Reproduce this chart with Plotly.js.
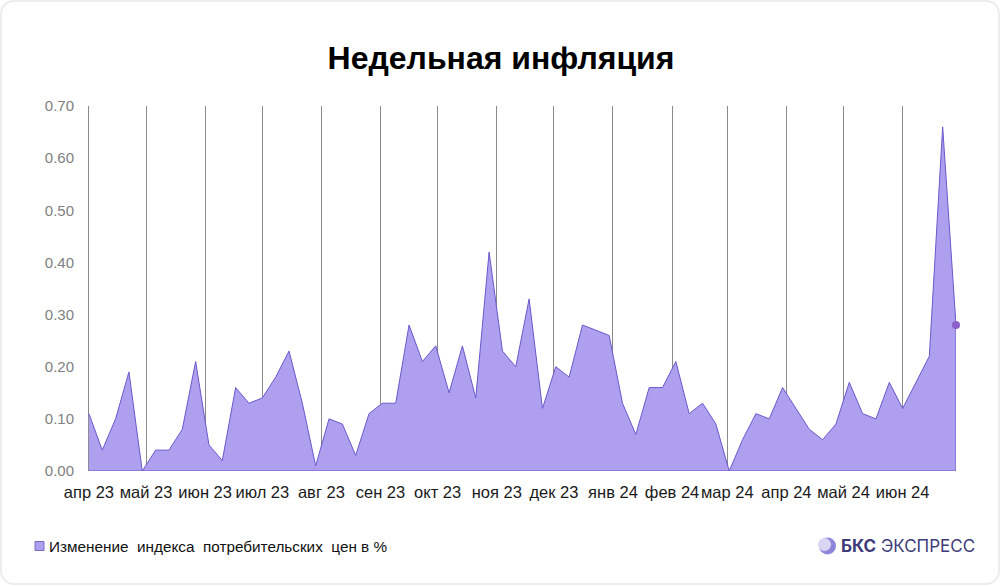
<!DOCTYPE html>
<html>
<head>
<meta charset="utf-8">
<script src="https://cdn.plot.ly/plotly-3.0.1.min.js"></script>
<style>
  html, body { margin: 0; padding: 0; background: #ffffff; }
  #wrap { position: relative; width: 1002px; height: 586px; }
  #chart { position: absolute; left: 0; top: 0; width: 1002px; height: 586px; }
  #card { position: absolute; left: 0; top: 0; width: 1000px; height: 585px; box-sizing: border-box;
          border: 2px solid #ededed; border-radius: 14px; pointer-events: none; }
</style>
</head>
<body>
<div id="wrap">
  <div id="chart"></div>
  <div id="card"></div>
</div>
<script>
// Weekly dates (one per published week)
const weeks = [
  "2023-04-01","2023-04-08","2023-04-15","2023-04-22","2023-04-29",
  "2023-05-06","2023-05-13","2023-05-20","2023-05-27",
  "2023-06-03","2023-06-10","2023-06-17","2023-06-24",
  "2023-07-01","2023-07-08","2023-07-15","2023-07-22","2023-07-29",
  "2023-08-05","2023-08-12","2023-08-19","2023-08-26",
  "2023-09-02","2023-09-09","2023-09-16","2023-09-23","2023-09-30",
  "2023-10-07","2023-10-14","2023-10-21","2023-10-28",
  "2023-11-04","2023-11-11","2023-11-18","2023-11-25",
  "2023-12-02","2023-12-09","2023-12-16","2023-12-23","2023-12-30",
  "2024-01-06","2024-01-13","2024-01-20","2024-01-27",
  "2024-02-03","2024-02-10","2024-02-17","2024-02-24",
  "2024-03-02","2024-03-09","2024-03-16","2024-03-23","2024-03-30",
  "2024-04-06","2024-04-13","2024-04-20","2024-04-27",
  "2024-05-04","2024-05-11","2024-05-18","2024-05-25",
  "2024-06-01","2024-06-08","2024-06-15","2024-06-22","2024-06-29"
];

// Weekly CPI change, %
const cpiChange = [
  0.11, 0.04, 0.10, 0.19, 0.00,
  0.04, 0.04, 0.08, 0.21,
  0.05, 0.02, 0.16, 0.13,
  0.14, 0.18, 0.23, 0.13, 0.01,
  0.10, 0.09, 0.03, 0.11,
  0.13, 0.13, 0.28, 0.21, 0.24,
  0.15, 0.24, 0.14, 0.42,
  0.23, 0.20, 0.33, 0.12,
  0.20, 0.18, 0.28, 0.27, 0.26,
  0.13, 0.07, 0.16, 0.16,
  0.21, 0.11, 0.13, 0.09,
  0.00, 0.06, 0.11, 0.10, 0.16,
  0.12, 0.08, 0.06, 0.09,
  0.17, 0.11, 0.10, 0.17,
  0.12, 0.17, 0.22, 0.66, 0.28
];

// Month tick positions and labels
const monthTicks = [
  "2023-04-01","2023-05-01","2023-06-01","2023-07-01","2023-08-01","2023-09-01",
  "2023-10-01","2023-11-01","2023-12-01","2024-01-01","2024-02-01","2024-03-01",
  "2024-04-01","2024-05-01","2024-06-01"
];
const monthLabels = [
  "апр 23","май 23","июн 23","июл 23","авг 23","сен 23",
  "окт 23","ноя 23","дек 23","янв 24","фев 24","мар 24",
  "апр 24","май 24","июн 24"
];

const seriesName = "Изменение  индекса  потребительских  цен в %";
const chartTitle = "Недельная инфляция";

const fillColor = "#ae9fef";
const lineColor = "#6a58cc";

const first = weeks[0], last = weeks[weeks.length - 1];

const area = {
  type: "scatter",
  mode: "lines",
  x: weeks.concat([last, first]),
  y: cpiChange.concat([0, 0]),
  fill: "toself",
  fillcolor: fillColor,
  line: { color: lineColor, width: 1 },
  name: seriesName,
  showlegend: false,
  hoverinfo: "skip"
};

const lastPoint = {
  type: "scatter",
  mode: "markers",
  x: [last],
  y: [cpiChange[cpiChange.length - 1]],
  marker: { color: "#8c5fc9", size: 8 },
  cliponaxis: false,
  showlegend: false,
  hoverinfo: "skip"
};

// layout geometry (pixels)
const L = 87, R = 46, T = 106, B = 115, W = 1002, H = 586;
const pw = W - L - R, ph = H - T - B;
const px = v => (v - L) / pw;          // pixel x -> paper
const py = v => (H - B - v) / ph;      // pixel y -> paper

const layout = {
  width: W, height: H,
  margin: { l: L, r: R, t: T, b: B },
  paper_bgcolor: "rgba(0,0,0,0)",
  plot_bgcolor: "rgba(0,0,0,0)",
  showlegend: false,
  font: { family: "Liberation Sans, Arial, sans-serif", color: "#1a1a1a" },
  title: {
    text: chartTitle,
    font: { family: "Liberation Sans, Arial, sans-serif", size: 32, color: "#000000", weight: "bold" },
    x: 0.5, xanchor: "center", xref: "container",
    y: 1 - 58 / H, yanchor: "middle", yref: "container"
  },
  xaxis: {
    type: "date",
    range: ["2023-03-31", last],
    tickmode: "array",
    tickvals: monthTicks,
    ticktext: monthLabels,
    tickangle: 0,
    showgrid: true,
    gridcolor: "#8a8a8a",
    gridwidth: 1,
    zeroline: false,
    showline: false,
    ticks: "",
    tickfont: { size: 16.5, color: "#1a1a1a" },
    ticklabelstandoff: 9,
    fixedrange: true
  },
  yaxis: {
    range: [0, 0.7],
    dtick: 0.1,
    tick0: 0,
    tickformat: ".2f",
    showgrid: false,
    zeroline: false,
    showline: false,
    ticks: "",
    tickfont: { size: 15, color: "#808080" },
    ticklabelstandoff: 12,
    fixedrange: true
  },
  shapes: [
    // legend swatch
    { type: "rect", xref: "paper", yref: "paper",
      x0: px(35), x1: px(44), y0: py(550.5), y1: py(541.5),
      fillcolor: fillColor, line: { color: "#7a68c8", width: 1 } },
    // logo sphere
    { type: "circle", xref: "paper", yref: "paper",
      x0: px(819), x1: px(836), y0: py(554.5), y1: py(537.5),
      fillcolor: "#8e86da", line: { width: 0 } },
    { type: "circle", xref: "paper", yref: "paper",
      x0: px(818), x1: px(831), y0: py(551), y1: py(538),
      fillcolor: "#d9d6f3", line: { width: 0 } }
  ],
  annotations: [
    { text: seriesName, xref: "paper", yref: "paper",
      x: px(47), y: py(546), xanchor: "left", yanchor: "middle", showarrow: false,
      font: { family: "Liberation Sans, Arial, sans-serif", size: 15.3, color: "#111111" } },
    { text: "<b>БКС</b> ЭКСПРЕСС", xref: "paper", yref: "paper",
      x: px(839), y: py(546), xanchor: "left", yanchor: "middle", showarrow: false,
      font: { family: "Inter, Roboto, sans-serif", size: 17, color: "#3d3b78" } }
  ]
};

Plotly.newPlot("chart", [area, lastPoint], layout, { displayModeBar: false, staticPlot: true });
</script>
</body>
</html>
